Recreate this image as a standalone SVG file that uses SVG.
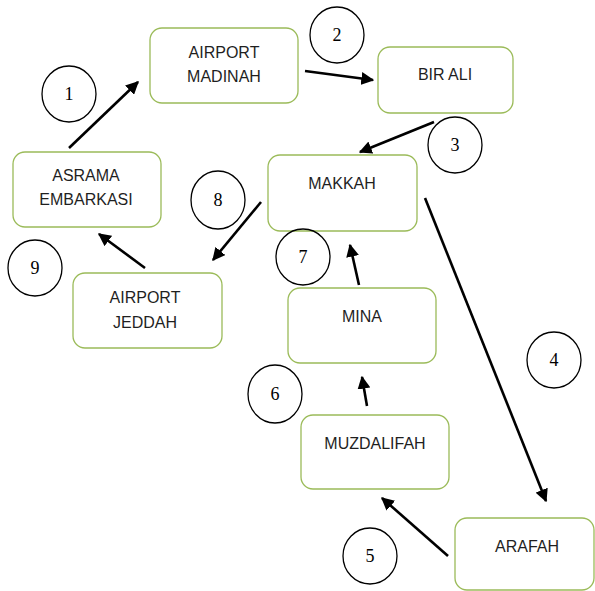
<svg xmlns="http://www.w3.org/2000/svg" width="595" height="591" viewBox="0 0 595 591">
<defs>
<marker id="ah" viewBox="0 0 10 10" refX="9" refY="5" markerWidth="5" markerHeight="5" orient="auto" markerUnits="strokeWidth">
<path d="M0,0 L10,5 L0,10 z" fill="#000"/>
</marker>
<style>
.box{fill:#fff;stroke:#9bbb59;stroke-width:1.3}
.lbl{font-family:"Liberation Sans",Arial,sans-serif;font-size:16px;fill:#1f1f1f;text-anchor:middle}
.num{fill:none;stroke:#000;stroke-width:1.3}
.nt{font-family:"Liberation Serif","Times New Roman",serif;font-size:18px;fill:#000;text-anchor:middle}
.ar{stroke:#000;stroke-width:2.6;fill:none;marker-end:url(#ah)}
</style>
</defs>
<rect width="595" height="591" fill="#fff"/>
<g id="connectors">
<line class="ar" x1="69" y1="148" x2="138" y2="82"/>
<line class="ar" x1="305" y1="71" x2="373" y2="80"/>
<line class="ar" x1="434" y1="122" x2="360" y2="152"/>
<line class="ar" x1="425" y1="198" x2="546" y2="501"/>
<line class="ar" x1="448" y1="556" x2="382" y2="498"/>
<line class="ar" x1="367" y1="406" x2="362" y2="377"/>
<line class="ar" x1="359" y1="285" x2="350" y2="245"/>
<line class="ar" x1="261" y1="202" x2="213" y2="260"/>
<line class="ar" x1="145" y1="268" x2="99" y2="234"/>
</g>
<g id="asrama"><rect class="box" x="13" y="152" width="148" height="75" rx="12"/><text class="lbl" x="86" y="181">ASRAMA</text><text class="lbl" x="86" y="205">EMBARKASI</text></g>
<g id="airport-madinah"><rect class="box" x="150" y="28" width="148" height="75" rx="12"/><text class="lbl" x="224" y="58">AIRPORT</text><text class="lbl" x="224" y="82">MADINAH</text></g>
<g id="bir-ali"><rect class="box" x="378" y="47" width="135" height="66" rx="12"/><text class="lbl" x="445" y="80">BIR ALI</text></g>
<g id="makkah"><rect class="box" x="268" y="155" width="149" height="76" rx="12"/><text class="lbl" x="342" y="189">MAKKAH</text></g>
<g id="mina"><rect class="box" x="288" y="288" width="148" height="75" rx="12"/><text class="lbl" x="362" y="322">MINA</text></g>
<g id="muzdalifah"><rect class="box" x="301" y="415" width="148" height="74" rx="12"/><text class="lbl" x="375" y="449">MUZDALIFAH</text></g>
<g id="arafah"><rect class="box" x="455" y="518" width="139" height="72" rx="12"/><text class="lbl" x="527" y="552">ARAFAH</text></g>
<g id="airport-jeddah"><rect class="box" x="73" y="273" width="149" height="75" rx="12"/><text class="lbl" x="145" y="303">AIRPORT</text><text class="lbl" x="145" y="328">JEDDAH</text></g>
<g id="n1"><ellipse class="num" cx="69" cy="94" rx="27" ry="28"/><text class="nt" x="69" y="100">1</text></g>
<g id="n2"><ellipse class="num" cx="337" cy="35" rx="27" ry="28"/><text class="nt" x="337" y="41">2</text></g>
<g id="n3"><ellipse class="num" cx="455" cy="145" rx="27" ry="28"/><text class="nt" x="455" y="151">3</text></g>
<g id="n4"><ellipse class="num" cx="554" cy="360" rx="27" ry="28"/><text class="nt" x="554" y="366">4</text></g>
<g id="n5"><ellipse class="num" cx="370" cy="556" rx="27" ry="28"/><text class="nt" x="370" y="562">5</text></g>
<g id="n6"><ellipse class="num" cx="275" cy="394" rx="27" ry="29"/><text class="nt" x="275" y="400">6</text></g>
<g id="n7"><ellipse class="num" cx="303" cy="257" rx="27" ry="28"/><text class="nt" x="303" y="263">7</text></g>
<g id="n8"><ellipse class="num" cx="218" cy="200" rx="27" ry="29"/><text class="nt" x="218" y="206">8</text></g>
<g id="n9"><ellipse class="num" cx="35" cy="268" rx="27" ry="28"/><text class="nt" x="35" y="274">9</text></g>
</svg>
